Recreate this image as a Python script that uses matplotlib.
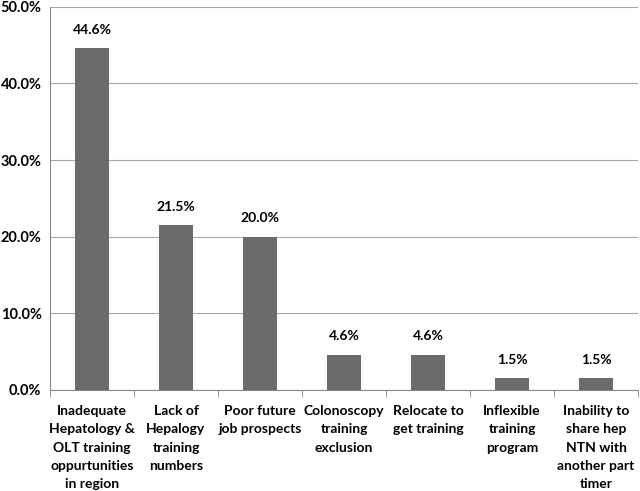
import matplotlib.pyplot as plt
import numpy as np

plt.rcParams["font.family"] = ["Lato", "DejaVu Sans"]

categories = [
    "Inadequate\nHepatology &\nOLT training\noppurtunities\nin region",
    "Lack of\nHepalogy\ntraining\nnumbers",
    "Poor future\njob prospects",
    "Colonoscopy\ntraining\nexclusion",
    "Relocate to\nget training",
    "Inflexible\ntraining\nprogram",
    "Inability to\nshare hep\nNTN with\nanother part\ntimer",
]
values = [44.6, 21.5, 20.0, 4.6, 4.6, 1.5, 1.5]
yticks = [0, 10, 20, 30, 40, 50]

fig = plt.figure(figsize=(6.4, 4.91), dpi=100)
ax = fig.add_axes([0.078, 0.206, 0.919, 0.78])

x = np.arange(len(categories))
ax.bar(x, values, width=0.4, color="#6b6b6b", zorder=3)
for xi, v in zip(x, values):
    ax.text(xi, v + 1.6, f"{v:.1f}%", ha="center", va="bottom",
            fontsize=10, fontweight="bold")

ax.set_xlim(-0.5, len(categories) - 0.5)
ax.set_ylim(0, 50)
ax.set_yticks(yticks)
ax.set_yticklabels([f"{t:.1f}%" for t in yticks], fontsize=10.5, fontweight="bold")
ax.yaxis.grid(True, color="#a8a8a8", linewidth=0.8, zorder=0)
ax.tick_params(axis="y", length=0, pad=6)

ax.set_xticks(x)
ax.set_xticklabels(categories, fontsize=10, fontweight="bold", linespacing=1.62, va="top")
ax.tick_params(axis="x", length=0, pad=11)
ax.set_xticks(np.arange(len(categories) + 1) - 0.5, minor=True)
ax.tick_params(axis="x", which="minor", length=5, color="#888888", direction="out")

for s in ["top", "right"]:
    ax.spines[s].set_visible(False)
ax.spines["left"].set_color("#888888")
ax.spines["bottom"].set_color("#888888")

fig.savefig("out.png", dpi=100)
